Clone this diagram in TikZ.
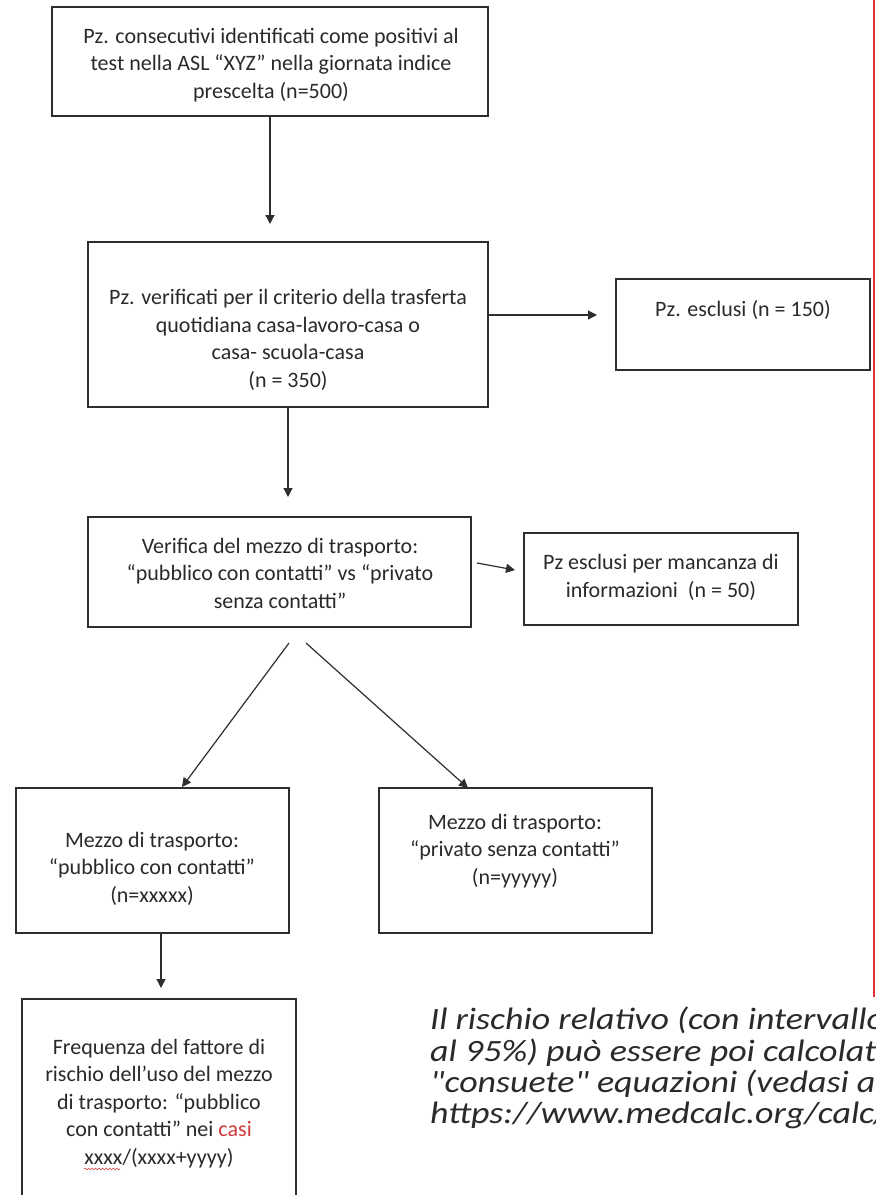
\documentclass[tikz,border=0pt]{standalone}
\usepackage{fontspec}
\usepackage{graphicx}
\setmainfont{Carlito}
\newfontfamily\notefont{Carlito}[Ligatures=TeXOff]
\usetikzlibrary{arrows.meta,decorations.pathmorphing}
\definecolor{linec}{HTML}{2E2E2E}
\definecolor{textc}{HTML}{2A2A2A}
\definecolor{redc}{HTML}{D03A3A}
\definecolor{edgered}{HTML}{E03434}
\begin{document}
\begin{tikzpicture}[x=1pt,y=-1pt,
  box/.style={draw=linec, line width=1.3pt, rectangle, inner sep=0pt},
  txt/.style={align=center, font=\fontsize{22}{27.5}\selectfont, text=textc, inner sep=0pt, anchor=base},
  arrow/.style={draw=linec, line width=1.2pt, -{Triangle[length=9pt,width=9pt]}},
  note/.style={text=textc, inner sep=0pt, anchor=base west}]
\useasboundingbox (0,0) rectangle (876,1195);
\clip (0,0) rectangle (876,1195);
\fill[white] (0,0) rectangle (876,1195);

% red edge line
\draw[edgered, line width=2.2pt] (874,0) -- (874,997);

% boxes
\node[box, minimum width=436pt, minimum height=109pt] (b1) at (270,61.5) {};
\node[box, minimum width=400pt, minimum height=165pt] (b2) at (288,324.5) {};
\node[box, minimum width=254pt, minimum height=91pt] (ex) at (743,324.5) {};
\node[box, minimum width=383pt, minimum height=110pt] (b3) at (279.5,572) {};
\node[box, minimum width=274pt, minimum height=92pt] (inf) at (661,579) {};
\node[box, minimum width=273pt, minimum height=145pt] (b4) at (152.5,860.5) {};
\node[box, minimum width=273pt, minimum height=145pt] (b5) at (515.5,860.5) {};
\node[box, minimum width=274pt, minimum height=240pt] (b6) at (159,1119) {};

% texts (placed at the baseline of their last line)
\node[txt] (t1) at (271,98) {Pz. consecutivi identificati come positivi al\\test nella ASL “XYZ” nella giornata indice\\prescelta (n=500)};
\node[txt] (t2) at (288,387) {Pz. verificati per il criterio della trasferta\\quotidiana casa-lavoro-casa o\\casa- scuola-casa\\(n = 350)};
\node[txt] (tex) at (743,316) {Pz. esclusi (n = 150)};
\node[txt] (t3) at (280,608) {Verifica del mezzo di trasporto:\\“pubblico con contatti” vs “privato\\senza contatti”};
\node[txt] (tinf) at (661,597) {Pz esclusi per mancanza di\\informazioni~~(n = 50)};
\node[txt] (t4) at (152,902) {Mezzo di trasporto:\\“pubblico con contatti”\\(n=xxxxx)};
\node[txt] (t5) at (515,884) {Mezzo di trasporto:\\“privato senza contatti”\\(n=yyyyy)};
\node[txt] (t6) at (159,1164) {Frequenza del fattore di\\rischio dell’uso del mezzo\\di trasporto: “pubblico\\con contatti” nei \textcolor{redc}{casi}\\xxxx/(xxxx+yyyy)};
\draw[redc, line width=0.6pt, decorate, decoration={snake, amplitude=0.9pt, segment length=3.5pt}] (84,1169) -- (120,1169);

\node[note] (nt) at (430,1123.5) {\scalebox{1.16}[1]{\notefont\fontsize{31}{30.5}\selectfont\itshape
  \begin{tabular}[b]{@{}l@{}}Il rischio relativo (con intervallo\\al 95\%) può essere poi calcolato\\"consuete" equazioni (vedasi a\\https://www.medcalc.org/calc/\end{tabular}}};

% connector end points
\coordinate (a1e) at (270,224);
\coordinate (a2e) at (597,315);
\coordinate (a3e) at (288,497);
\coordinate (a4s) at (477,563);
\coordinate (a4e) at (515,570);
\coordinate (d1s) at (289,643);
\coordinate (d1e) at (182,787);
\coordinate (d2s) at (306,643);
\coordinate (d2e) at (468,788);
\coordinate (a5e) at (161,988);

% connectors
\draw[arrow] (b1.south) -- (a1e);
\draw[arrow] (b2.east |- a2e) -- (a2e);
\draw[arrow] (b2.south) -- (a3e);
\draw[arrow] (a4s) -- (a4e);
\draw[arrow] (d1s) -- (d1e);
\draw[arrow] (d2s) -- (d2e);
\draw[arrow] (a5e |- b4.south) -- (a5e);
\end{tikzpicture}
\end{document}
